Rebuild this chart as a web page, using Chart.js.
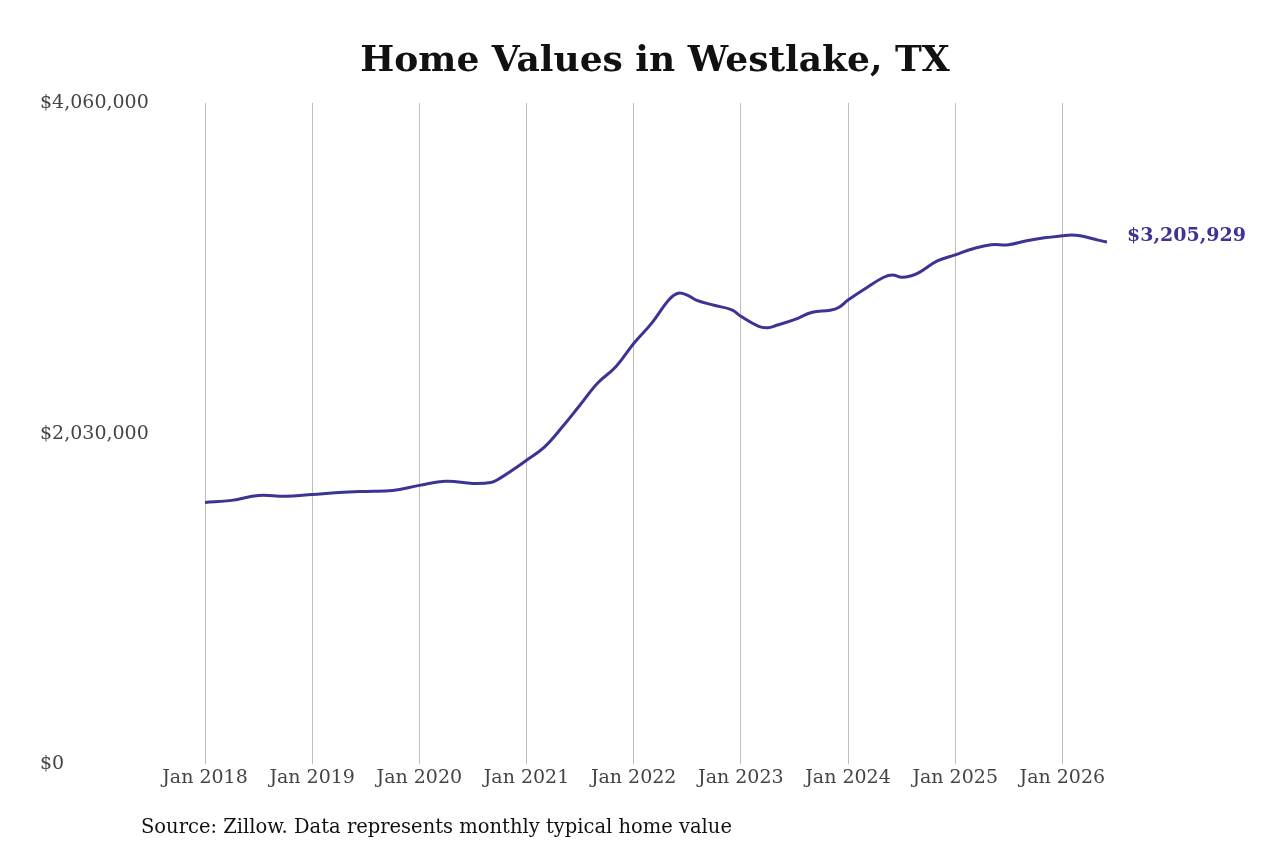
<!DOCTYPE html>
<html>
<head>
<meta charset="utf-8">
<script src="https://cdn.jsdelivr.net/npm/chart.js@4.4.0/dist/chart.umd.min.js"></script>
<style>
  body { margin: 0; background: #fff; }
  #wrap { width: 1280px; height: 853px; }
</style>
</head>
<body>
<div id="wrap"><canvas id="homeChart" width="1280" height="853"></canvas></div>
<script>
// months since Jan 2018, and typical home value
const months = [0, 3, 6, 9, 12, 15, 18, 21, 24, 27, 30, 32, 33, 36, 38, 40, 42, 44, 46, 48, 50, 52, 53, 54, 55, 57, 59, 60, 62, 63, 64, 66, 68, 70, 71, 72, 74, 76, 77, 78, 79, 80, 82, 84, 86, 88, 90, 92, 94, 96, 97, 98, 100, 101];
const values = [1607000, 1620000, 1650000, 1645000, 1656000, 1668000, 1675000, 1680000, 1712000, 1737000, 1724000, 1730000, 1755000, 1866000, 1947000, 2070000, 2206000, 2342000, 2440000, 2583000, 2707000, 2855000, 2892000, 2880000, 2850000, 2818000, 2790000, 2750000, 2688000, 2680000, 2695000, 2730000, 2775000, 2787000, 2806000, 2850000, 2923000, 2990000, 3004000, 2990000, 2998000, 3020000, 3090000, 3127000, 3165000, 3190000, 3190000, 3214000, 3232000, 3245000, 3250000, 3245000, 3218000, 3205929];
const yTicks = [0, 2030000, 4060000];
const xTickLabels = ['Jan 2018', 'Jan 2019', 'Jan 2020', 'Jan 2021', 'Jan 2022', 'Jan 2023', 'Jan 2024', 'Jan 2025', 'Jan 2026'];
const lastLabel = '$3,205,929';

const lineColor = '#3b3494';
const serif = "'DejaVu Serif', 'Liberation Serif', serif";

const extras = {
    id: 'extras',
    afterDraw(c) {
        const ctx = c.ctx;
        ctx.save();
        ctx.fillStyle = '#111';
        ctx.font = 'bold 36px ' + serif;
        ctx.textAlign = 'center';
        ctx.textBaseline = 'middle';
        ctx.fillText('Home Values in Westlake, TX', 655, 62);

        ctx.font = '19.5px ' + serif;
        ctx.textAlign = 'left';
        ctx.fillText('Source: Zillow. Data represents monthly typical home value', 141, 828);

        const meta = c.getDatasetMeta(0);
        const p = meta.data[meta.data.length - 1];
        ctx.fillStyle = lineColor;
        ctx.font = 'bold 19px ' + serif;
        ctx.fillText(lastLabel, p.x + 20, p.y - 6);
        ctx.restore();
    }
};

new Chart(document.getElementById('homeChart'), {
    type: 'line',
    data: {
        datasets: [{
            data: months.map((m, i) => ({ x: m, y: values[i] })),
            borderColor: lineColor,
            borderWidth: 3,
            pointRadius: 0,
            tension: 0.4,
            fill: false
        }]
    },
    options: {
        responsive: false,
        animation: false,
        layout: { padding: { left: 40, right: 173, top: 103, bottom: 62 } },
        plugins: { legend: { display: false }, tooltip: { enabled: false } },
        scales: {
            x: {
                type: 'linear',
                min: 0,
                max: 101,
                afterBuildTicks: s => { s.ticks = xTickLabels.map((_, i) => ({ value: i * 12 })); },
                ticks: {
                    callback: (v) => xTickLabels[v / 12],
                    color: '#444',
                    font: { family: serif, size: 19 },
                    maxRotation: 0,
                    padding: 2
                },
                grid: { color: '#bdbdbd', drawTicks: false, lineWidth: 1 },
                border: { display: false }
            },
            y: {
                min: 0,
                max: 4060000,
                afterBuildTicks: s => { s.ticks = yTicks.map(v => ({ value: v })); },
                afterFit: s => { s.width = 165; },
                ticks: {
                    callback: v => '$' + v.toLocaleString('en-US'),
                    color: '#444',
                    font: { family: serif, size: 19 },
                    crossAlign: 'far'
                },
                grid: { display: false },
                border: { display: false }
            }
        }
    },
    plugins: [extras]
});
</script>
</body>
</html>
